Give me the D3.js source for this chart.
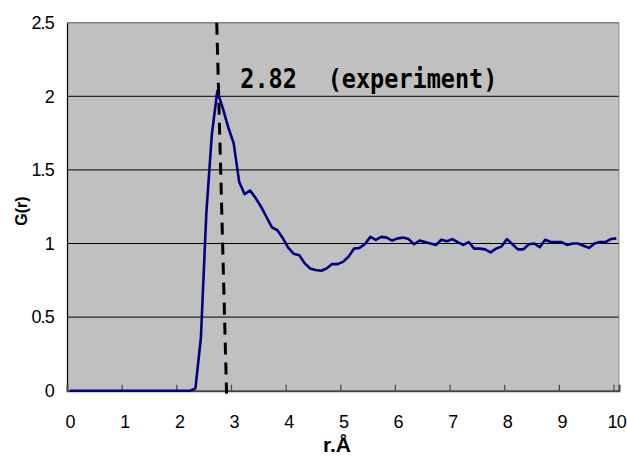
<!DOCTYPE html>
<html><head><meta charset="utf-8">
<script src="https://cdn.jsdelivr.net/npm/d3@7"></script>
<style>body{margin:0;background:#fff}</style>
</head><body>
<svg id="c" width="627" height="458"></svg>
<script>
// r (Å) categories
const rValues = [0.0,0.1,0.2,0.3,0.4,0.5,0.6,0.7,0.8,0.9,
1.0,1.1,1.2,1.3,1.4,1.5,1.6,1.7,1.8,1.9,
2.0,2.1,2.2,2.3,2.4,2.5,2.6,2.7,2.8,2.9,
3.0,3.1,3.2,3.3,3.4,3.5,3.6,3.7,3.8,3.9,
4.0,4.1,4.2,4.3,4.4,4.5,4.6,4.7,4.8,4.9,
5.0,5.1,5.2,5.3,5.4,5.5,5.6,5.7,5.8,5.9,
6.0,6.1,6.2,6.3,6.4,6.5,6.6,6.7,6.8,6.9,
7.0,7.1,7.2,7.3,7.4,7.5,7.6,7.7,7.8,7.9,
8.0,8.1,8.2,8.3,8.4,8.5,8.6,8.7,8.8,8.9,
9.0,9.1,9.2,9.3,9.4,9.5,9.6,9.7,9.8,9.9,
10.0];
// G(r)
const gValues = [0,0,0,0,0,0,0,0,0,0,
0,0,0,0,0,0,0,0,0,0,
0,0,0,0.016,0.36,1.21,1.74,2.035,1.92,1.79,
1.68,1.42,1.335,1.36,1.31,1.25,1.18,1.11,1.09,1.035,
0.97,0.93,0.92,0.865,0.83,0.82,0.815,0.83,0.86,0.86,
0.875,0.91,0.965,0.97,0.995,1.045,1.025,1.045,1.04,1.02,
1.035,1.04,1.03,0.995,1.02,1.01,1.0,0.99,1.025,1.015,
1.03,1.01,0.99,1.01,0.965,0.965,0.96,0.94,0.965,0.98,
1.03,0.995,0.96,0.96,0.995,1.0,0.975,1.025,1.01,1.01,
1.01,0.99,1.0,1.0,0.985,0.97,1.0,1.01,1.01,1.03,
1.035];
const xTickValues = [0,1,2,3,4,5,6,7,8,9,10];
const xTickLabels = ["0","1","2","3","4","5","6","7","8","9","10"];
const yTickValues = [0,0.5,1,1.5,2,2.5];
const yTickLabels = ["0","0.5","1","1.5","2","2.5"];
const gridValues = [0.5,1,1.5,2];
const peakLine = [{r:2.69,g:2.5},{r:2.87,g:-0.02}];
const annoValue = "2.82";
const annoText = "(experiment)";

const L=67, R=619, T=22.7, B=390.7;
const svg = d3.select("#c");
const half = (rValues[1]-rValues[0])/2;
const x = d3.scaleLinear().domain([rValues[0]-half, rValues[rValues.length-1]+half]).range([L,R]);
const y = d3.scaleLinear().domain([0,2.5]).range([B,T]);

svg.append("rect").attr("x",L).attr("y",T).attr("width",R-L).attr("height",B-T).attr("fill","#c0c0c0");

// gridlines
svg.append("g").selectAll("line").data(gridValues).join("line")
  .attr("x1",L).attr("x2",R).attr("y1",d=>y(d)).attr("y2",d=>y(d))
  .attr("stroke","#000").attr("stroke-width",1);

// borders
svg.append("line").attr("x1",L).attr("x2",R).attr("y1",T).attr("y2",T).attr("stroke","#808080").attr("stroke-width",1.5);
svg.append("line").attr("x1",R).attr("x2",R).attr("y1",T).attr("y2",B).attr("stroke","#909090").attr("stroke-width",1);

// y axis
const yAxis = svg.append("g").attr("transform",`translate(${L},0)`)
  .call(d3.axisLeft(y).tickValues(yTickValues).tickFormat((d,i)=>yTickLabels[i]).tickSize(0).tickPadding(13));
yAxis.select(".domain").attr("stroke","#000").attr("stroke-width",1.2);
yAxis.selectAll("text").attr("font-family","Liberation Sans, Arial, sans-serif").attr("font-size",18)
  .attr("letter-spacing","-0.8").attr("fill","#000");

// x axis tick marks (category boundaries)
const xTicksAxis = svg.append("g").attr("transform",`translate(0,${B})`)
  .call(d3.axisBottom(x).tickValues(xTickValues.slice(1).map(v=>v-half)).tickSize(-6).tickFormat(""));
xTicksAxis.select(".domain").attr("stroke","#444").attr("stroke-width",2);
xTicksAxis.selectAll(".tick line").attr("stroke","#444").attr("stroke-width",1.2);

// x labels
const xLab = svg.append("g").attr("transform",`translate(0,${B})`)
  .call(d3.axisBottom(x).tickValues(xTickValues).tickFormat((d,i)=>xTickLabels[i]).tickSize(0).tickPadding(24.5));
xLab.select(".domain").remove();
xLab.selectAll("text").attr("font-family","Liberation Sans, Arial, sans-serif").attr("font-size",18)
  .attr("letter-spacing","-0.8").attr("fill","#000");

// curve
const data = rValues.map((r,i)=>({r, g:gValues[i]}));
svg.append("path").datum(data)
  .attr("d", d3.line().x(d=>x(d.r)).y(d=>y(d.g)))
  .attr("fill","none").attr("stroke","#000080").attr("stroke-width",2.6).attr("stroke-linejoin","round");

// dashed peak line
svg.append("path").datum(peakLine)
  .attr("d", d3.line().x(d=>x(d.r)).y(d=>y(d.g)))
  .attr("fill","none").attr("stroke","#000").attr("stroke-width",3).attr("stroke-dasharray","12,8");

// annotation
const annoFont = "DejaVu Sans Mono, monospace";
svg.append("text").attr("transform",`translate(${x(3.12)},88) scale(0.87,1)`)
  .attr("font-family",annoFont).attr("font-weight","bold").attr("font-size",27).attr("fill","#000").text(annoValue);
svg.append("text").attr("transform",`translate(${x(4.72)},88) scale(0.87,1)`)
  .attr("font-family",annoFont).attr("font-weight","bold").attr("font-size",27).attr("fill","#000").text(annoText);

// axis titles
svg.append("text").attr("transform","translate(27,211) rotate(-90)").attr("text-anchor","middle")
  .attr("font-family","Liberation Sans, Arial, sans-serif").attr("font-weight","bold").attr("font-size",16).text("G(r)");
svg.append("text").attr("x",337).attr("y",452).attr("text-anchor","middle")
  .attr("font-family","Liberation Sans, Arial, sans-serif").attr("font-weight","bold").attr("font-size",21).text("r.Å");
</script>
</body></html>
